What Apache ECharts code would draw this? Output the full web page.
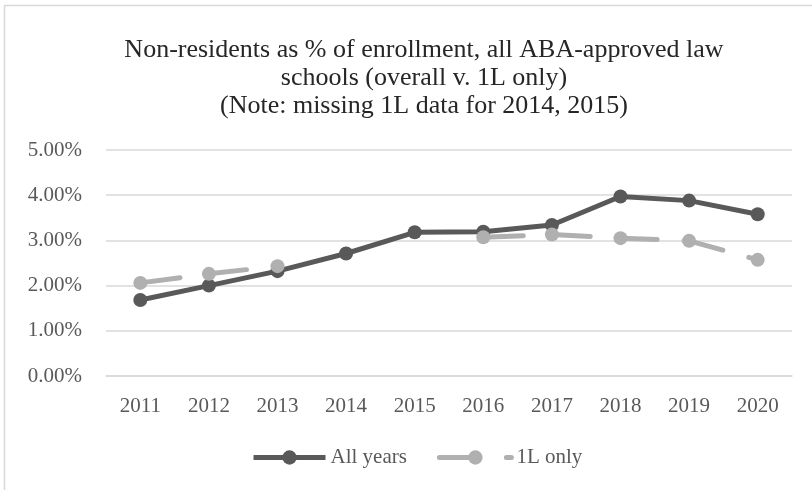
<!DOCTYPE html>
<html>
<head>
<meta charset="utf-8">
<script src="https://cdn.jsdelivr.net/npm/echarts@6/dist/echarts.min.js"></script>
<style>html,body{margin:0;padding:0;background:#fff}#c{width:812px;height:490px}</style>
</head>
<body>
<div id="c"></div>
<script>
const years = ['2011','2012','2013','2014','2015','2016','2017','2018','2019','2020'];
const allYears = [1.68, 2.00, 2.32, 2.71, 3.18, 3.19, 3.34, 3.97, 3.88, 3.58];
const oneLOnly = [2.06, 2.26, 2.43, null, null, 3.07, 3.13, 3.05, 2.99, 2.57];
const yTicks = [0, 1, 2, 3, 4, 5];
const titleText = 'Non-residents as % of enrollment, all ABA-approved law\nschools (overall v. 1L only)\n(Note: missing 1L data for 2014, 2015)';

const font = '"Liberation Serif", "DejaVu Serif", serif';
const chart = echarts.init(document.getElementById('c'), null, {renderer: 'canvas'});
chart.setOption({
  backgroundColor: '#fff',
  animation: false,
  graphic: [{
    type: 'rect', silent: true, z: -1,
    shape: {x: 4.5, y: 5.5, width: 900, height: 600},
    style: {fill: 'none', stroke: '#d9d9d9', lineWidth: 1.5}
  }],
  title: {
    text: titleText,
    left: 419, textAlign: 'center', top: 31,
    textStyle: {fontFamily: font, fontSize: 26, fontWeight: 'normal', color: '#262626', lineHeight: 28}
  },
  grid: {left: 106, width: 686, top: 150, bottom: 114},
  xAxis: {
    type: 'category', data: years, boundaryGap: true,
    axisLine: {show: true, lineStyle: {color: '#d9d9d9', width: 1.5}},
    axisTick: {show: false},
    axisLabel: {fontFamily: font, fontSize: 21, color: '#595959', margin: 20}
  },
  yAxis: {
    type: 'value', min: yTicks[0], max: yTicks[yTicks.length - 1], interval: 1,
    axisLine: {show: false}, axisTick: {show: false},
    splitLine: {lineStyle: {color: '#d9d9d9', width: 1.5}},
    axisLabel: {fontFamily: font, fontSize: 21, color: '#595959', margin: 24,
      formatter: v => v.toFixed(2) + '%'}
  },
  legend: {
    bottom: 17, left: 246, itemGap: 30, itemWidth: 72, itemHeight: 18,
    textStyle: {fontFamily: font, fontSize: 21, color: '#595959'},
    lineStyle: {width: 5},
    data: ['All years', '1L only']
  },
  series: [{
    name: 'All years', type: 'line', data: allYears,
    symbol: 'circle', symbolSize: 14,
    lineStyle: {color: '#595959', width: 5},
    itemStyle: {color: '#595959'}
  }, {
    name: '1L only', type: 'line', data: oneLOnly,
    symbol: 'circle', symbolSize: 14, connectNulls: false,
    lineStyle: {color: '#b0b0b0', width: 5, type: [40, 27], cap: 'round'},
    itemStyle: {color: '#b0b0b0'}
  }]
});
</script>
</body>
</html>
